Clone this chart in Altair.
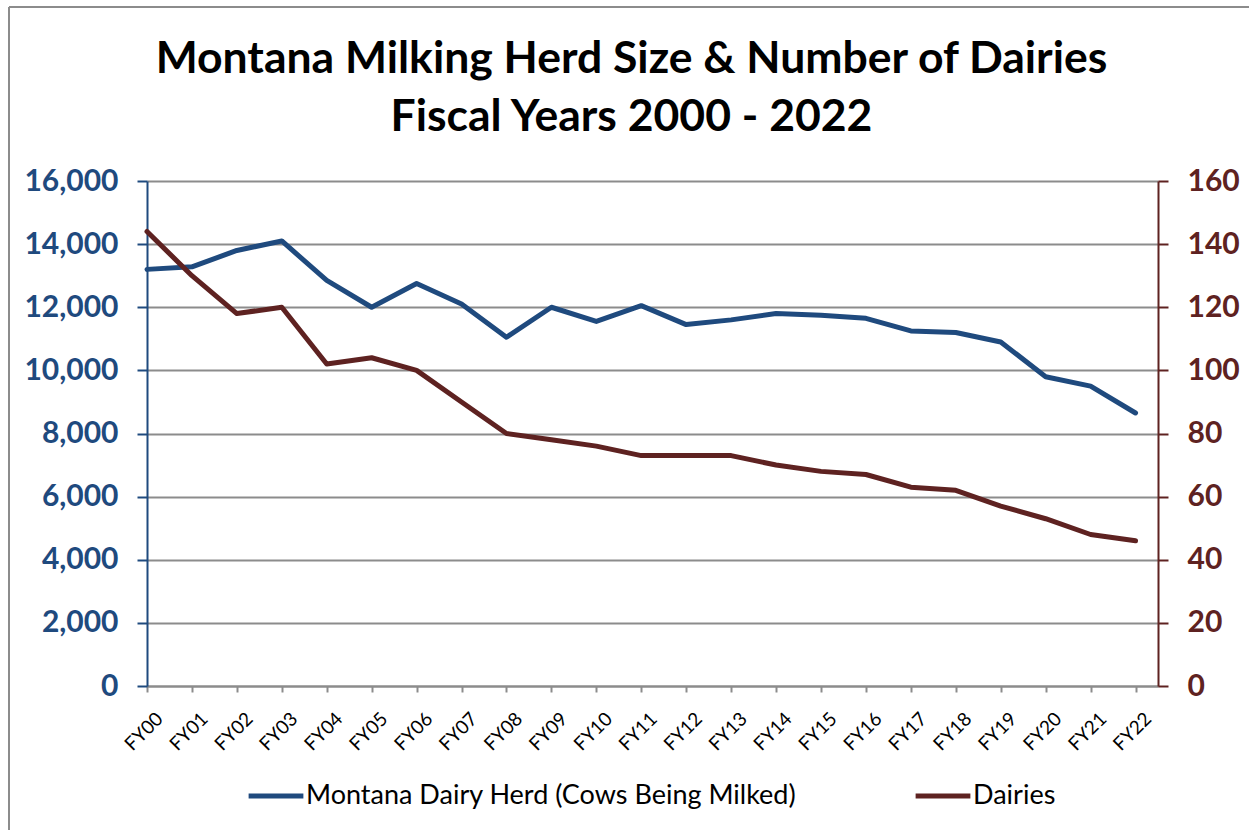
import json
import altair as alt
import pandas as pd

# Fiscal-year categories and the two series plotted against them
fiscal_years = ["FY00", "FY01", "FY02", "FY03", "FY04", "FY05", "FY06", "FY07",
                "FY08", "FY09", "FY10", "FY11", "FY12", "FY13", "FY14", "FY15",
                "FY16", "FY17", "FY18", "FY19", "FY20", "FY21", "FY22"]
herd_size = [13200, 13280, 13800, 14100, 12850, 12000, 12750, 12100, 11050,
             12000, 11550, 12050, 11450, 11600, 11800, 11750, 11650, 11250,
             11200, 10900, 9800, 9500, 8650]
dairies = [144, 130, 118, 120, 102, 104, 100, 90, 80, 78, 76, 73, 73, 73, 70,
           68, 67, 63, 62, 57, 53, 48, 46]

herd_label = "Montana Dairy Herd (Cows Being Milked)"
dairy_label = "Dairies"
title_lines = ["Montana Milking Herd Size & Number of Dairies",
               "Fiscal Years 2000 - 2022"]
left_ticks = [0, 2000, 4000, 6000, 8000, 10000, 12000, 14000, 16000]
right_ticks = [0, 20, 40, 60, 80, 100, 120, 140, 160]

BLUE = "#1F4A7E"
MAROON = "#5E2221"
GRID = "#8C8C8C"
FONT = "Lato"

W, H = 1011, 505
PAD = {"left": 147, "top": 181, "right": 91, "bottom": 144}

rows = []
for i, fy in enumerate(fiscal_years):
    rows.append({"idx": i, "fy": fy, "series": herd_label, "value": herd_size[i]})
    rows.append({"idx": i, "fy": fy, "series": dairy_label, "value": dairies[i]})
df = pd.DataFrame(rows)

label_expr = json.dumps(fiscal_years) + "[datum.value]"

x_enc = alt.X(
    "idx:Q",
    scale=alt.Scale(domain=[0, len(fiscal_years) - 0.5], nice=False, zero=False),
    axis=alt.Axis(
        values=list(range(len(fiscal_years))), labelExpr=label_expr,
        labelAngle=-45, labelFont=FONT, labelFontSize=19, labelColor="black",
        labelPadding=17, labelOffset=6, domainColor=GRID, domainWidth=2,
        tickColor=GRID, tickWidth=2, tickSize=6, grid=False, title=None,
        labelOverlap=False,
    ),
)

color_enc = alt.Color(
    "series:N",
    scale=alt.Scale(domain=[herd_label, dairy_label], range=[BLUE, MAROON]),
    legend=alt.Legend(
        orient="none", legendX=99, legendY=585, direction="horizontal",
        title=None, symbolType="stroke", symbolStrokeWidth=5, symbolSize=3000,
        labelFont=FONT, labelFontSize=27, labelColor="black", labelOffset=0,
        columnPadding=108, labelLimit=700,
    ),
)

axis_common = dict(labelFont=FONT, labelFontSize=30, labelFontWeight="bold",
                   labelPadding=19, domainWidth=2, tickWidth=2, tickSize=10,
                   title=None, format=",.0f")

herd_line = alt.Chart(df).transform_filter(
    alt.datum.series == herd_label
).mark_line(strokeWidth=5, strokeCap="round", strokeJoin="round").encode(
    x=x_enc,
    y=alt.Y("value:Q", scale=alt.Scale(domain=[0, 16000], nice=False),
            axis=alt.Axis(orient="left", values=left_ticks, labelColor=BLUE,
                          domainColor=BLUE, tickColor=BLUE, grid=True,
                          gridColor=GRID, gridWidth=2, **axis_common)),
    color=color_enc,
)

dairy_line = alt.Chart(df).transform_filter(
    alt.datum.series == dairy_label
).mark_line(strokeWidth=5, strokeCap="round", strokeJoin="round").encode(
    x=x_enc,
    y=alt.Y("value:Q", scale=alt.Scale(domain=[0, 160], nice=False),
            axis=alt.Axis(orient="right", values=right_ticks, labelColor=MAROON,
                          domainColor=MAROON, tickColor=MAROON, grid=False,
                          **axis_common)),
    color=color_enc,
)

one = alt.Data(values=[{}])

# Chart-area frame (top and left edges)
frame_top = alt.Chart(one).mark_rule(color=GRID, strokeWidth=2).encode(
    x=alt.value(-138), x2=alt.value(W + PAD["right"] + 10), y=alt.value(-174))
frame_left = alt.Chart(one).mark_rule(color=GRID, strokeWidth=2).encode(
    x=alt.value(-138), y=alt.value(-174), y2=alt.value(H + PAD["bottom"] + 10))

title_style = dict(font=FONT, fontSize=44.5, fontWeight="bold", color="black",
                   align="center", baseline="alphabetic")
title1 = alt.Chart(one).mark_text(text=title_lines[0], **title_style).encode(
    x=alt.value(631.5 - PAD["left"]), y=alt.value(73 - PAD["top"]))
title2 = alt.Chart(one).mark_text(text=title_lines[1], **title_style).encode(
    x=alt.value(631.5 - PAD["left"]), y=alt.value(131 - PAD["top"]))

chart = alt.layer(
    frame_top, frame_left, title1, title2, herd_line, dairy_line
).resolve_scale(y="independent").properties(
    width=W, height=H, padding=PAD, autosize=alt.AutoSizeParams(type="none"),
    background="white",
).configure_view(stroke=None)

chart.save("out.html", embed_options={"renderer": "svg", "actions": False})
